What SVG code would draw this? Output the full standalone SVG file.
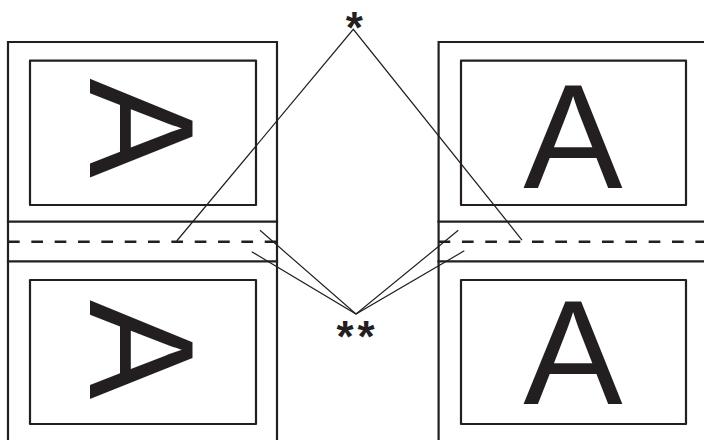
<svg xmlns="http://www.w3.org/2000/svg" width="704" height="440" viewBox="0 0 704 440">
<style>
.frame{fill:none;stroke:#231f20;stroke-width:2.2;stroke-linecap:square}
.inner{fill:none;stroke:#231f20;stroke-width:2.2;stroke-linejoin:round}
.dash{fill:none;stroke:#231f20;stroke-width:2.6;stroke-dasharray:11.67 11.67}
.lead{fill:none;stroke:#231f20;stroke-width:1.2}
.big{font-family:"Liberation Sans",Arial,sans-serif;font-size:149px;fill:#231f20;text-anchor:middle}
.star{font-family:"Liberation Sans",Arial,sans-serif;font-weight:bold;font-size:44px;fill:#231f20;text-anchor:middle}
</style>
<rect width="704" height="440" fill="#ffffff"/>
<g id="page-left">
  <path class="frame" d="M8,441 V42 H277 V441"/>
  <line class="frame" x1="8" y1="221.7" x2="277" y2="221.7"/>
  <line class="frame" x1="8" y1="261.3" x2="277" y2="261.3"/>
  <line class="dash" x1="8" y1="241.7" x2="277" y2="241.7"/>
  <rect class="inner" x="30" y="60.7" width="226" height="144.3"/>
  <rect class="inner" x="30" y="280" width="226" height="144"/>
  <text class="big" transform="translate(143.6,128.3) rotate(90)" x="0" y="53.5">A</text>
  <text class="big" transform="translate(143.6,349.7) rotate(90)" x="0" y="53.5">A</text>
</g>
<g id="page-right">
  <path class="frame" d="M438.6,441 V42 H705"/>
  <line class="frame" x1="438.6" y1="221.7" x2="705" y2="221.7"/>
  <line class="frame" x1="438.6" y1="261.3" x2="705" y2="261.3"/>
  <line class="dash" x1="438.6" y1="241.7" x2="705" y2="241.7"/>
  <rect class="inner" x="461" y="60.7" width="225" height="144.3"/>
  <rect class="inner" x="461" y="280" width="225" height="144"/>
  <text class="big" x="573" y="188.4">A</text>
  <text class="big" x="573" y="404.3">A</text>
</g>
<g id="connectors">
  <polyline class="lead" points="176.7,241 353.3,29.3 522,240"/>
  <polyline class="lead" points="260,230.3 356,314 458.3,230.3"/>
  <polyline class="lead" points="251.7,251.7 356,314 464.3,250.8"/>
</g>
<g id="labels">
  <text id="label-single" class="star" x="354.2" y="43">*</text>
  <text id="label-double" class="star" x="357.5" y="352" letter-spacing="4">**</text>
</g>
</svg>
